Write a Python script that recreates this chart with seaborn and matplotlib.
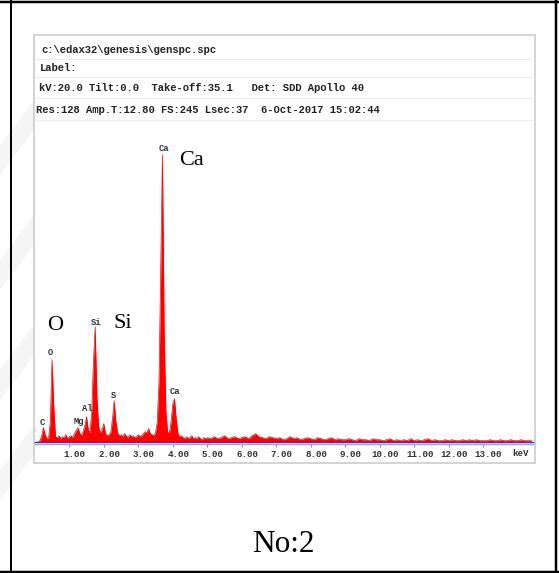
import numpy as np
import pandas as pd
import matplotlib
matplotlib.use("Agg")
import matplotlib.pyplot as plt
import seaborn as sns
from matplotlib.patches import Rectangle, Polygon
from matplotlib.lines import Line2D
from matplotlib import transforms

sns.set_theme(style="white")
plt.rcParams['font.family'] = ['DejaVu Sans']

# ---------------- data ----------------
# EDS channel grid (keV) and counts (arbitrary units)
energy_low = np.round(np.arange(0.10, 4.951, 0.05), 2)
counts_low = [0, 1, 6, 14, 7, 3, 4, 20, 82, 35,
              5, 4, 6, 3, 5, 4, 7, 3, 5, 6,
              4, 8, 11, 14, 9, 6, 10, 16, 25, 12,
              9, 30, 80, 115, 45, 15, 9, 12, 18, 8,
              6, 7, 9, 22, 41, 20, 9, 6, 7, 5,
              8, 6, 4, 7, 5, 6, 4, 5, 7, 5,
              6, 8, 10, 9, 13, 8, 7, 6, 9, 20,
              60, 170, 287, 110, 30, 10, 8, 20, 38, 43,
              22, 8, 5, 6, 4, 3, 5, 3, 4, 6,
              3, 4, 3, 5, 3, 2, 4, 3]
energy_high = np.round(np.arange(5.0, 14.401, 0.1), 1)
counts_high = [4, 3, 5, 3, 4, 6, 3, 4, 5, 3,
               4, 5, 3, 6, 8, 5, 4, 3, 5, 4,
               3, 4, 2, 3, 5, 3, 4, 2, 3, 4,
               3, 2, 4, 3, 2, 3, 4, 2, 3, 2,
               2, 3, 2, 1, 3, 2, 2, 1, 3, 2,
               2, 1, 2, 3, 1, 2, 1, 2, 1, 3,
               1, 2, 1, 2, 3, 1, 2, 1, 1, 2,
               1, 2, 1, 1, 2, 1, 2, 1, 2, 1,
               1, 1, 2, 1, 1, 2, 1, 1, 2, 1,
               1, 2, 1, 1, 1]

tick_values = [1, 2, 3, 4, 5, 6, 7, 8, 9, 10, 11, 12, 13]
tick_labels = ["1.00", "2.00", "3.00", "4.00", "5.00", "6.00", "7.00",
               "8.00", "9.00", "10.00", "11.00", "12.00", "13.00"]
axis_unit = "keV"

peak_labels = ["C", "O", "Mg", "Al", "Si", "S", "Ca", "Ca"]
peak_label_energy = [0.22, 0.46, 1.29, 1.53, 1.77, 2.28, 3.73, 4.06]
peak_label_height = [19, 89, 20, 33, 119, 46, 293, 50]

header_lines = [
    "c:\\edax32\\genesis\\genspc.spc",
    "Label:",
    "kV:20.0 Tilt:0.0  Take-off:35.1   Det: SDD Apollo 40",
    "Res:128 Amp.T:12.80 FS:245 Lsec:37  6-Oct-2017 15:02:44",
]
big_labels = ["Ca", "O", "Si"]
caption = "No:2"

# ---------------- figure ----------------
W, H = 559, 573
fig = plt.figure(figsize=(W / 100, H / 100), dpi=100)
fig.patch.set_facecolor("white")


def fx(px):
    return px / W


def fy(py):
    return 1 - py / H


# faint diagonal watermark stripes on the left margin
for y0 in [175, 290, 400, 500]:
    poly = Polygon([(fx(0), fy(y0)), (fx(34), fy(y0 - 45)),
                    (fx(34), fy(y0 - 75)), (fx(0), fy(y0 - 30))],
                   closed=True, transform=fig.transFigure,
                   facecolor="#f5f5f5", edgecolor="none", zorder=0)
    fig.add_artist(poly)

# outer table borders
for (x0, y0, x1, y1, lw) in [(11, 0, 11, H, 2.0), (0, 1.5, W, 1.5, 2.5),
                             (556, 0, 556, H, 2.5), (0, 571.5, W, 571.5, 2.5)]:
    fig.add_artist(Line2D([fx(x0), fx(x1)], [fy(y0), fy(y1)],
                          transform=fig.transFigure, color="black", lw=lw * 0.72))

# inner panel box
fig.add_artist(Rectangle((fx(34), fy(463)), fx(535) - fx(34), fy(35) - fy(463),
                         transform=fig.transFigure, fill=False,
                         edgecolor="#c8c8c8", lw=1.1))
for ysep in [59, 77, 98, 120]:
    fig.add_artist(Line2D([fx(35), fx(534)], [fy(ysep), fy(ysep)],
                          transform=fig.transFigure, color="#ededed", lw=0.8))

# header text
for (s, x, y) in zip(header_lines, [41, 40, 39, 36], [50, 68, 88, 110]):
    fig.text(fx(x), fy(y), s, family="Liberation Mono", weight="bold",
             fontsize=7.6, color="#222222", ha="left", va="center")

# spectrum axes
ax = fig.add_axes([fx(34), fy(443.5), fx(535) - fx(34), fy(125) - fy(443.5)])
ax.set_facecolor("none")
df = pd.DataFrame({"energy": np.concatenate([energy_low, energy_high]),
                   "counts": np.concatenate([counts_low, counts_high])})
red = "#ff0000"
ax.fill_between(df["energy"], 0, df["counts"], color=red, lw=0, zorder=2)
sns.lineplot(data=df, x="energy", y="counts", color=red, lw=0.5, ax=ax, zorder=2)
ax.axhline(0, color="#3232e6", lw=1.0, zorder=3)

ax.set_xlim(-0.023, 14.5)
ax.set_ylim(-1.8, 316.7)
sns.despine(ax=ax, left=True, top=True, right=True)
ax.spines["bottom"].set_color("#a8a8a8")
ax.spines["bottom"].set_linewidth(1.0)
ax.set_yticks([])
ax.set_xlabel("")
ax.set_ylabel("")
ax.set_xticks(tick_values)
ax.set_xticklabels(tick_labels, family="Liberation Mono", weight="bold",
                   fontsize=6.6, color="#333333")
ax.tick_params(axis="x", direction="out", length=2.2, width=0.8,
               color="#909090", pad=2.5, bottom=True)
offset = transforms.ScaledTranslation(5.4 / 100, 0, fig.dpi_scale_trans)
for lab in ax.get_xticklabels():
    lab.set_transform(lab.get_transform() + offset)
fig.text(fx(520.5), fy(454), axis_unit, family="Liberation Mono", weight="bold",
         fontsize=6.6, color="#333333", ha="center", va="center")

for lab, e, h in zip(peak_labels, peak_label_energy, peak_label_height):
    ax.text(e, h, lab, family="Liberation Mono", weight="bold", fontsize=6.3,
            color="#333333", ha="center", va="center", zorder=4)

# large annotations
for s, x, y in zip(big_labels, [191.5, 55.2, 122.7], [165, 330, 328.3]):
    fig.text(fx(x), fy(y), s, family="Liberation Serif", fontsize=16,
             color="black", ha="center", va="baseline")
fig.text(fx(283.5), fy(552), caption, family="Liberation Serif", fontsize=22.5,
         color="black", ha="center", va="baseline")

fig.savefig("out.png", dpi=100)
